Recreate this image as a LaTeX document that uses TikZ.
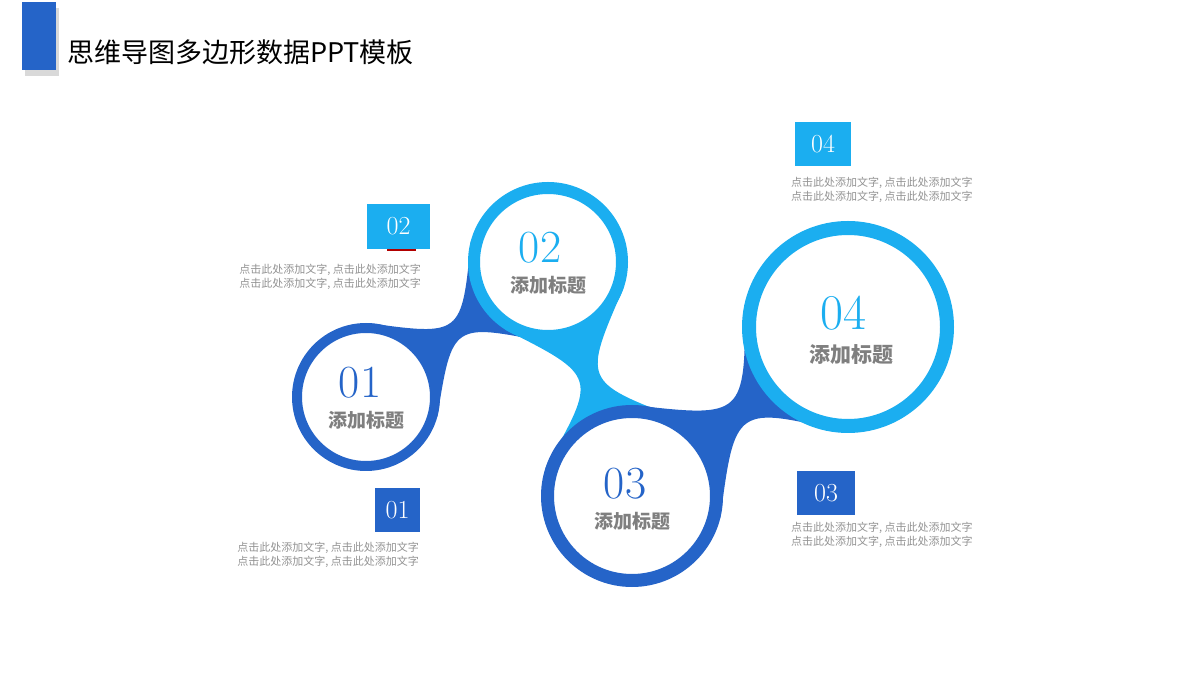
\documentclass[tikz,border=0pt]{standalone}
\usepackage{fontspec}
\newfontfamily\cjk{Noto Sans CJK SC}
\usepackage{tikz}
\usetikzlibrary{positioning,calc,shadows}
\definecolor{darkb}{HTML}{2564C8}
\definecolor{lightb}{HTML}{1BAEF0}
\definecolor{txtgray}{HTML}{7F7F7F}
\tikzset{ring/.style args={#1/#2}{circle, draw=#1, line width=#2, fill=white, inner sep=0pt}}
\tikzset{num/.style={font=\fontsize{46}{46}\selectfont, inner sep=0pt}}
\tikzset{ttl/.style={font=\cjk\bfseries\fontsize{19}{19}\selectfont, text=txtgray, inner sep=0pt}}
\tikzset{tag/.style={fill=#1, text=white, font=\fontsize{26}{26}\selectfont, inner sep=0pt}}
\tikzset{desc/.style={font=\cjk\fontsize{11}{13.5}\selectfont, text=txtgray!85, inner sep=0pt}}
% neck between two circles: A, rA, B, rB, angle, colour
\newcommand{\neckblob}[6]{%
  \fill[#6] ($(#1)+(#5+52:#2)$) .. controls ($($(#1)!0.5!(#3)$)+(#5+90:-8)$) .. ($(#3)+(#5+128:#4)$)
    -- ($(#3)+(#5+232:#4)$) .. controls ($($(#1)!0.5!(#3)$)+(#5-90:-8)$) .. ($(#1)+(#5-52:#2)$) -- cycle;}
\begin{document}
\begin{tikzpicture}[x=1pt,y=1pt]
  \useasboundingbox (0,0) rectangle (1200,675);
  % title
  \fill[darkb, drop shadow={shadow xshift=3pt, shadow yshift=-6pt, opacity=0.3}] (22,605) rectangle (56,673);
  \node[anchor=west, inner sep=0pt, font=\cjk\fontsize{27}{27}\selectfont] (title) at (67,623) {思维导图多边形数据PPT模板};
  % circle centres
  \coordinate (c1) at (366,278);
  \coordinate (c2) at (548,413);
  \coordinate (c3) at (632,179);
  \coordinate (c4) at (848,348);
  % necks
  \neckblob{c1}{74}{c2}{80}{36.6}{darkb}
  \neckblob{c2}{80}{c3}{91}{-70.2}{lightb}
  \neckblob{c3}{91}{c4}{106}{38}{darkb}
  % circles
  \node[ring=darkb/10pt, minimum size=138pt] (k1) at (c1) {};
  \node[ring=lightb/12pt, minimum size=148pt] (k2) at (c2) {};
  \node[ring=darkb/13pt, minimum size=169pt] (k3) at (c3) {};
  \node[ring=lightb/14pt, minimum size=198pt] (k4) at (c4) {};
  % labels in circles
  \node[num, text=darkb] (n1) at ($(c1)+(-6,14)$) {01};
  \node[ttl, below=12pt of n1.south, xshift=6pt] (t1) {添加标题};
  \node[num, text=lightb] (n2) at ($(c2)+(-8,14)$) {02};
  \node[ttl, below=12pt of n2.south, xshift=8pt] (t2) {添加标题};
  \node[num, text=darkb] (n3) at ($(c3)+(-7,12)$) {03};
  \node[ttl, below=12pt of n3.south, xshift=7pt] (t3) {添加标题};
  \node[num, text=lightb, font=\fontsize{50}{50}\selectfont] (n4) at ($(c4)+(-5,14)$) {04};
  \node[ttl, below=14pt of n4.south, xshift=8pt, font=\cjk\bfseries\fontsize{21}{21}\selectfont] (t4) {添加标题};
  % tags
  \node[tag=lightb, minimum width=63pt, minimum height=45pt] (g2) at (398.5,448.5) {02};
  \fill[red!70!black] (387,424) rectangle (416,426);
  \node[tag=darkb, minimum width=45pt, minimum height=44pt] (g1) at (397.5,165) {01};
  \node[tag=darkb, minimum width=58pt, minimum height=44pt] (g3) at (826,182) {03};
  \node[tag=lightb, minimum width=56pt, minimum height=44pt] (g4) at (823,531) {04};
  % descriptions
  \node[desc, align=right, anchor=north east] (d2) at (421,411) {点击此处添加文字, 点击此处添加文字\\点击此处添加文字, 点击此处添加文字};
  \node[desc, align=right, anchor=north east] (d1) at (419,133) {点击此处添加文字, 点击此处添加文字\\点击此处添加文字, 点击此处添加文字};
  \node[desc, align=left, anchor=north west] (d3) at (791,153) {点击此处添加文字, 点击此处添加文字\\点击此处添加文字, 点击此处添加文字};
  \node[desc, align=left, anchor=north west] (d4) at (791,498) {点击此处添加文字, 点击此处添加文字\\点击此处添加文字, 点击此处添加文字};
\end{tikzpicture}
\end{document}
